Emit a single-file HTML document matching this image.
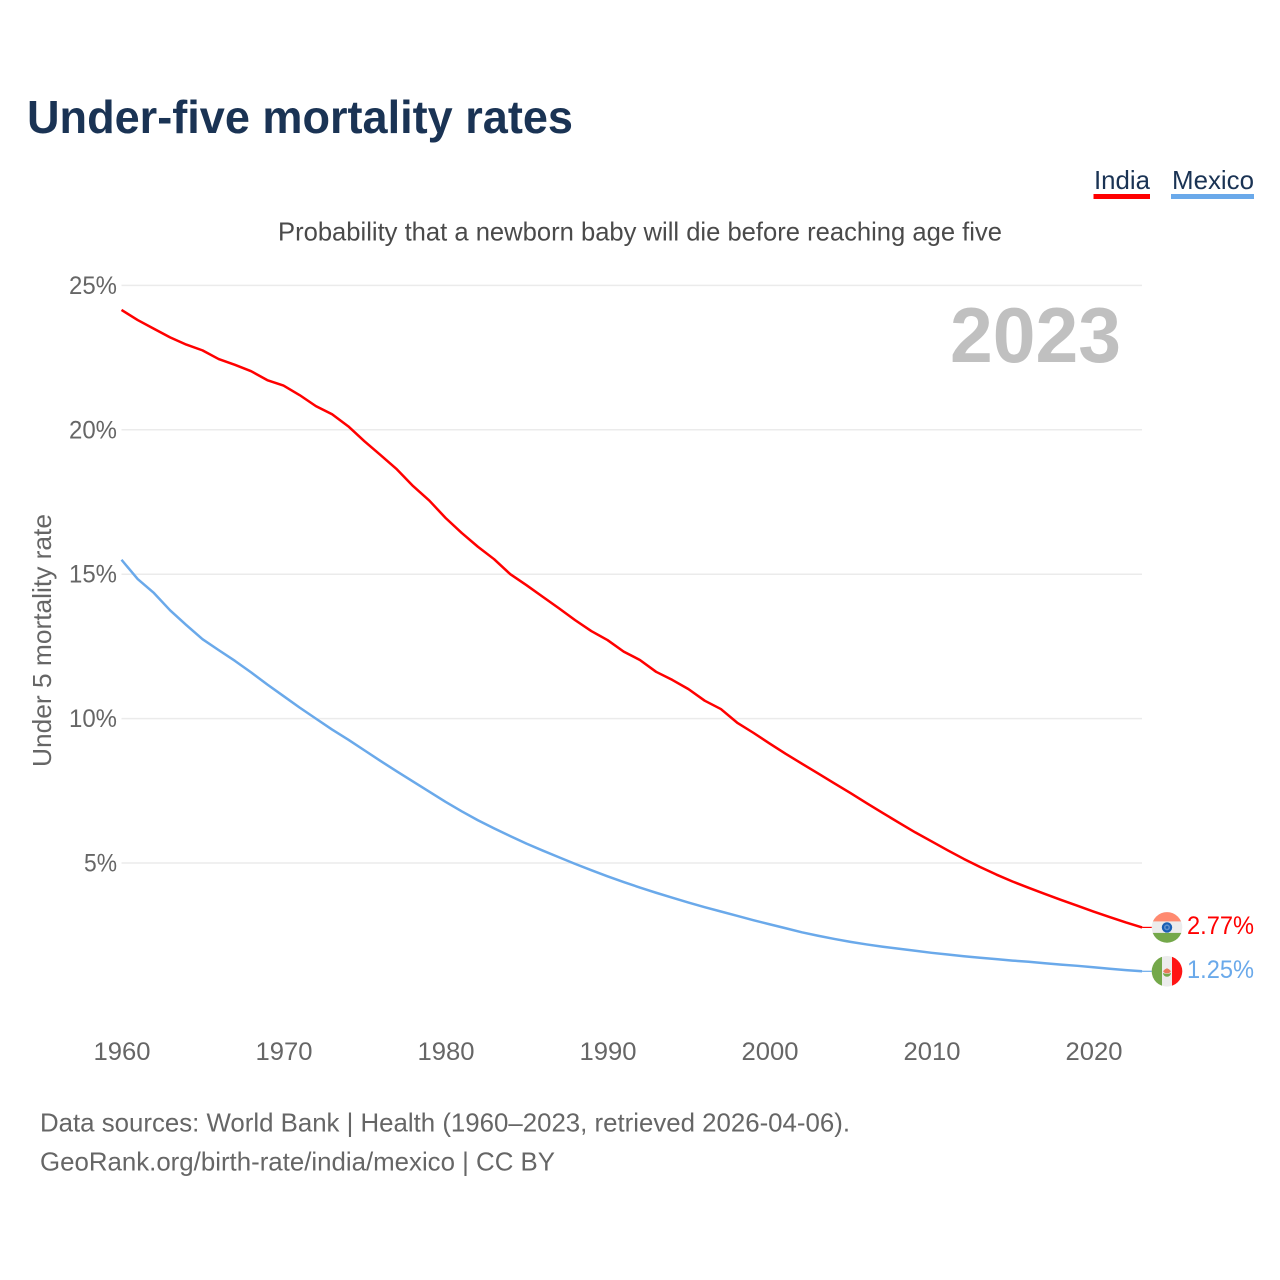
<!DOCTYPE html>
<html lang="en">
<head>
<meta charset="utf-8">
<title>Under-five mortality rates</title>
<style>
html,body{margin:0;padding:0;background:#fff;}
svg{display:block;}
text{font-family:"Liberation Sans",sans-serif;}
</style>
</head>
<body>
<svg id="chart" xmlns="http://www.w3.org/2000/svg" width="1280" height="1280" viewBox="0 0 1280 1280">
  <rect width="1280" height="1280" fill="#ffffff"/>
  <text x="27" y="133" font-size="46" font-weight="700" fill="#1a3354" textLength="546" lengthAdjust="spacingAndGlyphs">Under-five mortality rates</text>

  <g>
    <g>
      <text x="1094" y="189" font-size="26" fill="#1a3354" textLength="56" lengthAdjust="spacingAndGlyphs">India</text>
      <rect x="1093.500" y="194" width="56.500" height="5" fill="#ff0000"/>
    </g>
    <g>
      <text x="1172" y="189" font-size="26" fill="#1a3354" textLength="82" lengthAdjust="spacingAndGlyphs">Mexico</text>
      <rect x="1171" y="194" width="83" height="5" fill="#6aa9ea"/>
    </g>
  </g>

  <text x="278" y="240.500" font-size="26" fill="#4a4a4a" textLength="724" lengthAdjust="spacingAndGlyphs">Probability that a newborn baby will die before reaching age five</text>

  <g id="grid"></g>
  <g id="ytick-labels"></g>
  <g id="xtick-labels"></g>

  <text transform="translate(51,640.500) rotate(-90)" text-anchor="middle" font-size="26" fill="#666666" textLength="253" lengthAdjust="spacingAndGlyphs">Under 5 mortality rate</text>

  <text x="950" y="362" font-size="78" font-weight="700" fill="#c0c0c0" textLength="171" lengthAdjust="spacingAndGlyphs">2023</text>

  <path id="line-mexico" fill="none" stroke="#6aa9ea" stroke-width="2.500" stroke-linejoin="round"/>
  <path id="line-india" fill="none" stroke="#ff0000" stroke-width="2.500" stroke-linejoin="round"/>
  <line id="lead-india" stroke="#ff0000" stroke-width="1.200"/>
  <line id="lead-mexico" stroke="#6aa9ea" stroke-width="1.200"/>

  <defs>
    <clipPath id="clip-india"><circle cx="0" cy="0" r="15.300"/></clipPath>
    <clipPath id="clip-mexico"><circle cx="0" cy="0" r="15.300"/></clipPath>
  </defs>

  <g id="flag-india">
    <g clip-path="url(#clip-india)">
      <rect x="-16" y="-16" width="32" height="32" fill="#ececec"/>
      <rect x="-16" y="-16" width="32" height="10" fill="#ff8a70"/>
      <rect x="-16" y="5.500" width="32" height="11" fill="#74a84a"/>
      <circle cx="0" cy="0" r="5.200" fill="#1a5fb4"/>
      <circle cx="0" cy="0" r="3" fill="#5f90cc"/>
      <circle cx="0" cy="0" r="1.400" fill="#1a5fb4"/>
    </g>
  </g>
  <g id="flag-mexico">
    <g clip-path="url(#clip-mexico)">
      <rect x="-16" y="-16" width="32" height="32" fill="#ececec"/>
      <rect x="-16" y="-16" width="11" height="32" fill="#74a84a"/>
      <rect x="5" y="-16" width="11" height="32" fill="#ff1414"/>
      <path d="M-4 0 L-2 -2 L0 -3 L2 -2 L4 0 L2 2 L-2 2 Z" fill="#e8785a"/>
      <path d="M-4 1.500 A4 4 0 0 0 4 1.500 L2 2.500 L-2 2.500 Z" fill="#74a84a"/>
    </g>
  </g>

  <text id="value-india" x="1187" font-size="25" fill="#ff0000" textLength="67" lengthAdjust="spacingAndGlyphs"></text>
  <text id="value-mexico" x="1187" font-size="25" fill="#6aa9ea" textLength="67" lengthAdjust="spacingAndGlyphs"></text>

  <g>
    <text x="40" y="1131.500" font-size="26" fill="#666666" textLength="810" lengthAdjust="spacingAndGlyphs">Data sources: World Bank | Health (1960–2023, retrieved 2026-04-06).</text>
    <text x="40" y="1170.500" font-size="26" fill="#666666" textLength="515" lengthAdjust="spacingAndGlyphs">GeoRank.org/birth-rate/india/mexico | CC BY</text>
  </g>
</svg>
<script>
var firstYear = 1960;
var yTicks = [5, 10, 15, 20, 25];
var xTicks = [1960, 1970, 1980, 1990, 2000, 2010, 2020];
var indiaValues = [24.15,23.8,23.5,23.2,22.95,22.75,22.45,22.25,22.03,21.72,21.53,21.2,20.82,20.54,20.12,19.6,19.12,18.63,18.05,17.55,16.95,16.43,15.95,15.52,15.0,14.62,14.22,13.82,13.41,13.03,12.72,12.32,12.03,11.62,11.34,11.02,10.62,10.33,9.86,9.51,9.14,8.78,8.44,8.1,7.76,7.42,7.07,6.73,6.39,6.06,5.75,5.44,5.14,4.86,4.6,4.36,4.14,3.93,3.72,3.52,3.32,3.13,2.94,2.77];
var mexicoValues = [15.5,14.83,14.35,13.75,13.24,12.75,12.37,12.0,11.6,11.18,10.78,10.38,10.0,9.62,9.27,8.9,8.53,8.17,7.82,7.47,7.12,6.79,6.48,6.2,5.93,5.67,5.43,5.2,4.97,4.75,4.54,4.34,4.15,3.97,3.8,3.63,3.47,3.32,3.17,3.02,2.88,2.74,2.6,2.48,2.37,2.27,2.18,2.1,2.03,1.96,1.89,1.83,1.77,1.72,1.67,1.62,1.58,1.53,1.48,1.44,1.39,1.34,1.29,1.25];

var NS = 'http://www.w3.org/2000/svg';
function xScale(year) { return 121.5 + (year - 1960) * 16.2; }
function yScale(v) { return 1007.4 - v * 28.88; }
function linePath(values) {
  var d = '';
  for (var i = 0; i < values.length; i++) {
    d += (i ? 'L' : 'M') + xScale(firstYear + i).toFixed(2) + ' ' + yScale(values[i]).toFixed(2);
  }
  return d;
}
function makeText(parent, x, y, anchor, content, width) {
  var t = document.createElementNS(NS, 'text');
  t.setAttribute('x', x);
  t.setAttribute('y', y);
  t.setAttribute('text-anchor', anchor);
  t.setAttribute('font-size', '25');
  t.setAttribute('fill', '#666666');
  t.setAttribute('textLength', width);
  t.setAttribute('lengthAdjust', 'spacingAndGlyphs');
  t.textContent = content;
  parent.appendChild(t);
  return t;
}

var grid = document.getElementById('grid');
var yLabels = document.getElementById('ytick-labels');
yTicks.forEach(function (v) {
  var l = document.createElementNS(NS, 'line');
  
  
  l.setAttribute('x1', xScale(1960));
  l.setAttribute('x2', 1142);
  l.setAttribute('y1', yScale(v));
  l.setAttribute('y2', yScale(v));
  l.setAttribute('stroke', '#ebebeb');
  l.setAttribute('stroke-width', '1.500');
  grid.appendChild(l);
  var t = makeText(yLabels, 117, yScale(v) + 8.5, 'end', v + '%', v < 10 ? 33 : 48);
  
  
});

var xLabels = document.getElementById('xtick-labels');
xTicks.forEach(function (yr) {
  var t = makeText(xLabels, xScale(yr) + 0.5, 1060, 'middle', String(yr), 57);
  
  
});

document.getElementById('line-india').setAttribute('d', linePath(indiaValues));
document.getElementById('line-mexico').setAttribute('d', linePath(mexicoValues));

function placeEnd(key, values) {
  var last = values[values.length - 1];
  var lastYear = firstYear + values.length - 1;
  var y = yScale(last);
  var lead = document.getElementById('lead-' + key);
  lead.setAttribute('x1', xScale(lastYear));
  lead.setAttribute('x2', 1152);
  lead.setAttribute('y1', y);
  lead.setAttribute('y2', y);
  document.getElementById('flag-' + key).setAttribute('transform', 'translate(1167,' + y.toFixed(2) + ')');
  var v = document.getElementById('value-' + key);
  v.setAttribute('y', (y + 6.7).toFixed(2));
  v.textContent = last.toFixed(2) + '%';
}
placeEnd('india', indiaValues);
placeEnd('mexico', mexicoValues);
</script>
</body>
</html>
